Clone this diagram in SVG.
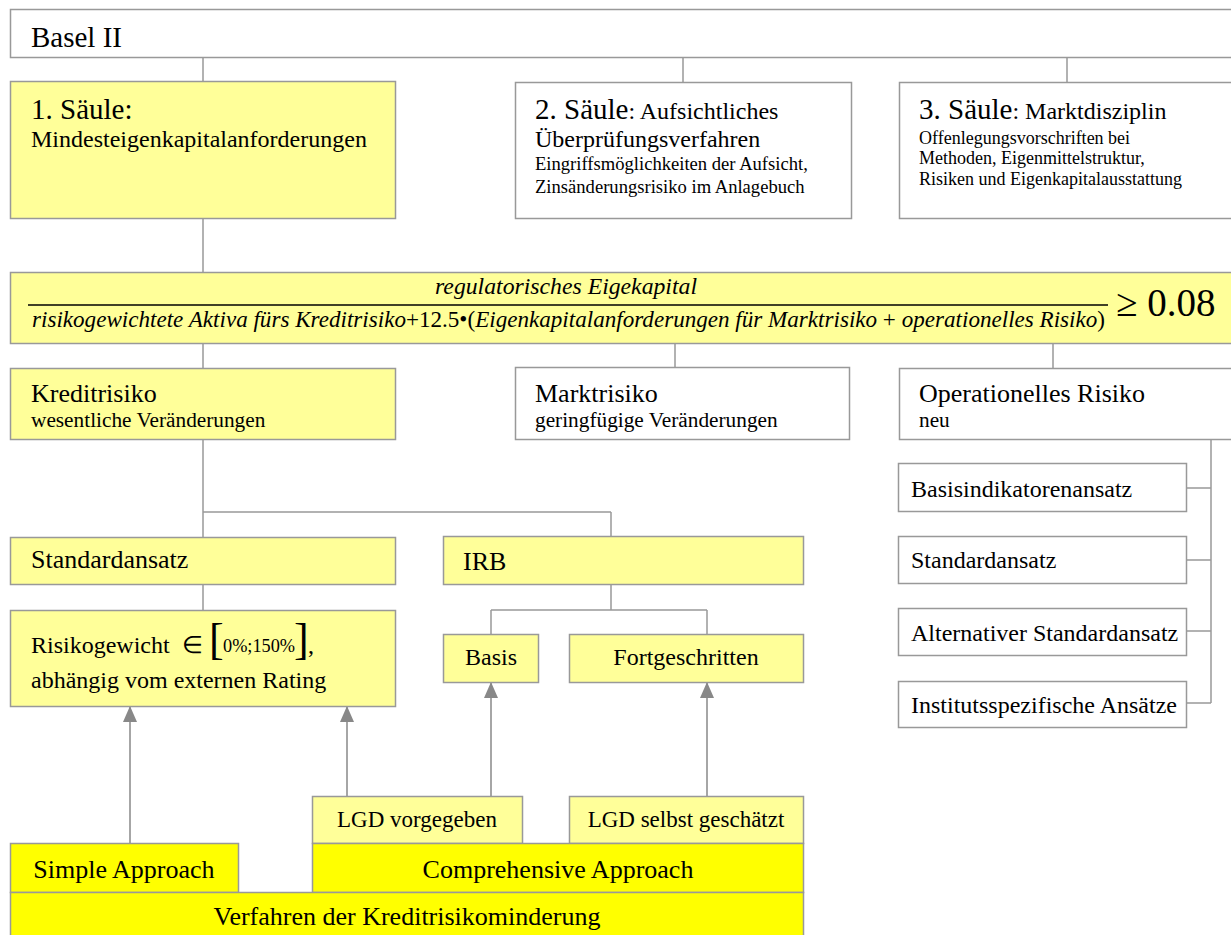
<svg xmlns="http://www.w3.org/2000/svg" width="1231" height="935" viewBox="0 0 1231 935">
<style>
text,tspan{font-family:"Liberation Serif","Times New Roman",serif;fill:#000}
.box{stroke:#999;stroke-width:1.5}
.w{fill:#fff}
.ly{fill:#ffff99}
.by{fill:#ffff00}
.con line{stroke:#999;stroke-width:1.5}
.arr line{stroke:#888;stroke-width:1.5}
.it{font-family:"Liberation Serif","Times New Roman",serif;font-style:italic}
.c{text-anchor:middle}
</style>
<defs>
<marker id="ah" markerUnits="userSpaceOnUse" markerWidth="16" markerHeight="14" viewBox="0 0 16 14" refX="16" refY="7" orient="auto">
<path d="M0,0 L16,7 L0,14 z" fill="#888"/>
</marker>
</defs>
<rect width="1231" height="935" fill="#fff"/>

<g class="con">
<line x1="203" y1="57" x2="203" y2="81"/>
<line x1="683" y1="57" x2="683" y2="82"/>
<line x1="1067" y1="57" x2="1067" y2="82"/>
<line x1="203" y1="218" x2="203" y2="272"/>
<line x1="203" y1="344" x2="203" y2="368"/>
<line x1="675" y1="344" x2="675" y2="367"/>
<line x1="1053" y1="344" x2="1053" y2="368"/>
<line x1="203" y1="440" x2="203" y2="537"/>
<line x1="203" y1="512" x2="611" y2="512"/>
<line x1="611" y1="512" x2="611" y2="536"/>
<line x1="203" y1="584" x2="203" y2="610"/>
<line x1="611" y1="584" x2="611" y2="610"/>
<line x1="491" y1="610" x2="707" y2="610"/>
<line x1="491" y1="610" x2="491" y2="634"/>
<line x1="707" y1="610" x2="707" y2="634"/>
<line x1="1211" y1="440" x2="1211" y2="703"/>
<line x1="1187" y1="488" x2="1211" y2="488"/>
<line x1="1187" y1="560" x2="1211" y2="560"/>
<line x1="1187" y1="631" x2="1211" y2="631"/>
<line x1="1187" y1="703" x2="1211" y2="703"/>
</g>
<g class="arr">
<line x1="130" y1="843" x2="130" y2="706" marker-end="url(#ah)"/>
<line x1="347" y1="796" x2="347" y2="706" marker-end="url(#ah)"/>
<line x1="491" y1="796" x2="491" y2="682" marker-end="url(#ah)"/>
<line x1="707" y1="796" x2="707" y2="682" marker-end="url(#ah)"/>
</g>

<g id="basel">
<rect class="box w" x="10.5" y="9.5" width="1240" height="48"/>
<text x="31" y="47" font-size="29">Basel II</text>
</g>

<g id="saeule1">
<rect class="box ly" x="10.5" y="81.5" width="385" height="137"/>
<text x="31" y="119" font-size="29">1. Säule:</text>
<text x="31" y="147" font-size="24">Mindesteigenkapitalanforderungen</text>
</g>

<g id="saeule2">
<rect class="box w" x="515.5" y="82.5" width="336" height="136"/>
<text x="535" y="119" font-size="29">2. Säule<tspan font-size="24">: Aufsichtliches</tspan></text>
<text x="535" y="147" font-size="24">Überprüfungsverfahren</text>
<text x="535" y="170" font-size="18.6">Eingriffsmöglichkeiten der Aufsicht,</text>
<text x="535" y="193" font-size="18.6">Zinsänderungsrisiko im Anlagebuch</text>
</g>

<g id="saeule3">
<rect class="box w" x="899.5" y="82.5" width="340" height="136"/>
<text x="919" y="119" font-size="29">3. Säule<tspan font-size="24">: Marktdisziplin</tspan></text>
<text x="919" y="144" font-size="18">Offenlegungsvorschriften bei</text>
<text x="919" y="164" font-size="18">Methoden, Eigenmittelstruktur,</text>
<text x="919" y="185" font-size="18">Risiken und Eigenkapitalausstattung</text>
</g>

<g id="formel">
<rect class="box ly" x="10.5" y="272.5" width="1240" height="71"/>
<text class="it c" x="566" y="294" font-size="22.5" textLength="262" lengthAdjust="spacingAndGlyphs">regulatorisches Eigekapital</text>
<line x1="28" y1="305" x2="1108" y2="305" stroke="#000" stroke-width="1.6"/>
<text x="32" y="327" font-size="22.5" textLength="1073" lengthAdjust="spacingAndGlyphs"><tspan class="it">risikogewichtete Aktiva fürs Kreditrisiko</tspan>+12.5•(<tspan class="it">Eigenkapitalanforderungen für Marktrisiko</tspan> + <tspan class="it">operationelles Risiko</tspan>)</text>
<text x="1116" y="316" font-size="39">≥ 0.08</text>
</g>

<g id="kreditrisiko">
<rect class="box ly" x="10.5" y="368.5" width="385" height="71"/>
<text x="31" y="402" font-size="26">Kreditrisiko</text>
<text x="31" y="427" font-size="21.3">wesentliche Veränderungen</text>
</g>

<g id="marktrisiko">
<rect class="box w" x="515.5" y="367.5" width="334" height="72"/>
<text x="535" y="402" font-size="26">Marktrisiko</text>
<text x="535" y="427" font-size="21.3">geringfügige Veränderungen</text>
</g>

<g id="oprisiko">
<rect class="box w" x="899.5" y="368.5" width="340" height="71"/>
<text x="919" y="402" font-size="26">Operationelles Risiko</text>
<text x="919" y="427" font-size="21.3">neu</text>
</g>

<g id="op1">
<rect class="box w" x="898.5" y="463.5" width="288" height="48"/>
<text x="911" y="497" font-size="24">Basisindikatorenansatz</text>
</g>
<g id="op2">
<rect class="box w" x="898.5" y="536.5" width="288" height="47"/>
<text x="911" y="568" font-size="24">Standardansatz</text>
</g>
<g id="op3">
<rect class="box w" x="898.5" y="608.5" width="288" height="47"/>
<text x="911" y="641" font-size="24">Alternativer Standardansatz</text>
</g>
<g id="op4">
<rect class="box w" x="898.5" y="681.5" width="288" height="46"/>
<text x="911" y="713" font-size="24">Institutsspezifische Ansätze</text>
</g>

<g id="standardansatz">
<rect class="box ly" x="10.5" y="537.5" width="385" height="47"/>
<text x="31" y="568" font-size="26">Standardansatz</text>
</g>

<g id="irb">
<rect class="box ly" x="443.5" y="536.5" width="360" height="48"/>
<text x="463" y="570" font-size="26">IRB</text>
</g>

<g id="risikogewicht">
<rect class="box ly" x="10.5" y="610.5" width="385" height="96"/>
<text x="31" y="653" font-size="24">Risikogewicht</text>
<text x="182" y="653" font-size="24">∈</text>
<text x="209" y="654" font-size="44">[</text>
<text x="223" y="652" font-size="18.3">0%;150%</text>
<text x="294" y="654" font-size="44">]</text>
<text x="308" y="653" font-size="24">,</text>
<text x="31" y="688" font-size="24">abhängig vom externen Rating</text>
</g>

<g id="basis">
<rect class="box ly" x="443.5" y="634.5" width="95" height="48"/>
<text class="c" x="491" y="665" font-size="24">Basis</text>
</g>

<g id="fortgeschritten">
<rect class="box ly" x="569.5" y="634.5" width="234" height="48"/>
<text class="c" x="686" y="665" font-size="24">Fortgeschritten</text>
</g>

<g id="lgd1">
<rect class="box ly" x="312.5" y="796.5" width="210" height="47"/>
<text class="c" x="417" y="827" font-size="23">LGD vorgegeben</text>
</g>

<g id="lgd2">
<rect class="box ly" x="569.5" y="796.5" width="234" height="47"/>
<text class="c" x="686" y="827" font-size="23">LGD selbst geschätzt</text>
</g>

<g id="simple">
<rect class="box by" x="10.5" y="843.5" width="228" height="49"/>
<text class="c" x="124" y="878" font-size="26">Simple Approach</text>
</g>

<g id="comprehensive">
<rect class="box by" x="312.5" y="843.5" width="491" height="49"/>
<text class="c" x="558" y="878" font-size="26">Comprehensive Approach</text>
</g>

<g id="verfahren">
<rect class="box by" x="10.5" y="892.5" width="793" height="50"/>
<text class="c" x="407" y="925" font-size="26">Verfahren der Kreditrisikominderung</text>
</g>
</svg>
